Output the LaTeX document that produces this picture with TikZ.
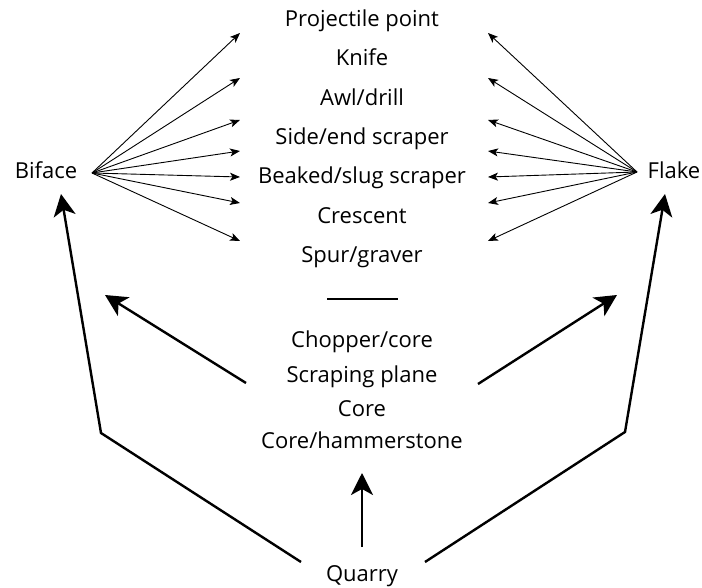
\documentclass[tikz,border=0pt]{standalone}
\usepackage{fontspec}
\setmainfont{Open Sans}
\usetikzlibrary{arrows.meta}

\begin{document}
\begin{tikzpicture}[
		x=1pt,y=-1pt,
		item/.style={anchor=base,inner sep=0pt,font=\fontsize{22}{26}\selectfont},
		thinarrow/.style={line width=0.9pt,-{Stealth[length=10pt,width=8pt,inset=2.5pt]}},
		thickarrow/.style={line width=2.4pt,-{Stealth[length=22pt,width=22pt,inset=6pt]}}]
	\useasboundingbox (0,0) rectangle (702,588);
	%% tools from biface or flake
	\foreach \name/\txt/\yy in {proj/Projectile point/27, knife/Knife/66, awl/Awl\slash drill/106,
			side/Side\slash end scraper/145, beak/Beaked\slash slug scraper/184,
			cresc/Crescent/224, spur/Spur\slash graver/263}
		\node[item] (\name) at (362,\yy) {\txt};
	%% cores
	\foreach \name/\txt/\yy in {chop/Chopper\slash core/348, plane/Scraping plane/382,
			core/Core/416, hammer/Core\slash hammerstone/448}
		\node[item] (\name) at (362,\yy) {\txt};
	\draw[line width=2pt] (327,299) -- (398,299);
	%% sources
	\node[item] (biface) at (46,179) {Biface};
	\node[item] (flake) at (674,179) {Flake};
	\node[item] (quarry) at (362,581) {Quarry};
	%% fans
	\coordinate (bf) at (92,173);
	\coordinate (fl) at (637,172);
	\foreach \yy [count=\i] in {33,78,120,151,177,203,241} {
		\coordinate (lt\i) at (240,\yy);
		\coordinate (rt\i) at (488,\yy);
		\draw[thinarrow] (bf) -- (lt\i);
		\draw[thinarrow] (fl) -- (rt\i);
	}
	%% quarry paths
	\coordinate (ql) at (301,562);
	\coordinate (cl) at (101,433);
	\coordinate (bl) at (61,194);
	\coordinate (qr) at (425,562);
	\coordinate (cr) at (625,432);
	\coordinate (br) at (665,194);
	\draw[thickarrow] (ql) -- (cl) -- (bl);
	\draw[thickarrow] (qr) -- (cr) -- (br);
	\draw[thickarrow] (362,547) -- (362,473);
	%% cores to biface and flake
	\draw[thickarrow] (246,383) -- (105,295);
	\draw[thickarrow] (478,384) -- (617,295);
\end{tikzpicture}
\end{document}
